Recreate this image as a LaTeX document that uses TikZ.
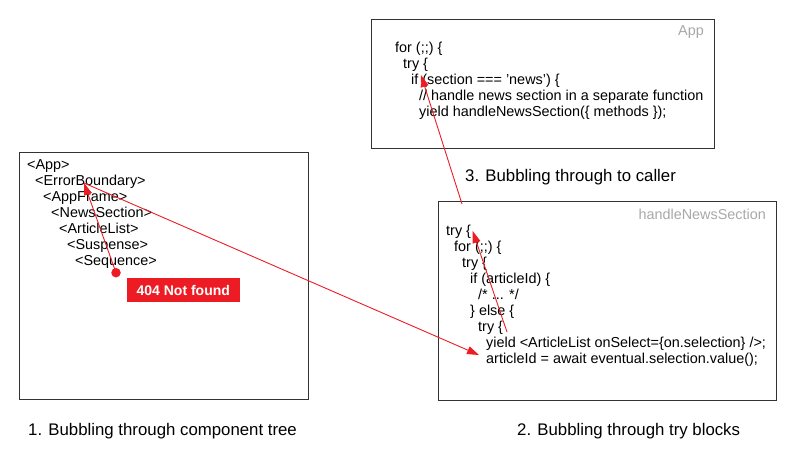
\documentclass[tikz,border=0pt]{standalone}
\usepackage{fontspec}
\setmainfont{Liberation Sans}
\usetikzlibrary{arrows.meta}
\definecolor{errred}{HTML}{ED1C24}
\definecolor{boxgray}{HTML}{333333}
\definecolor{lblgray}{HTML}{A8A8A8}
\tikzset{
  panel/.style={draw=boxgray, line width=1pt},
  code/.style={anchor=base west, inner sep=0pt, font=\fontsize{14.4}{16}\selectfont},
  lbl/.style={anchor=base east, inner sep=0pt, text=lblgray, font=\fontsize{14.4}{16}\selectfont},
  caption/.style={anchor=base west, inner sep=0pt, font=\fontsize{16.8}{20}\selectfont},
  bubble/.style={draw=errred, line width=0.9pt, -{Triangle[length=12pt,width=8pt]}, shorten >=0pt}
}
\begin{document}
\begin{tikzpicture}[x=1pt,y=-1pt]
\useasboundingbox (0,0) rectangle (800,456);
% panels
\draw[panel] (19,152) rectangle (308,399);
\draw[panel] (371,19.5) rectangle (714,148);
\draw[panel] (438.5,201.5) rectangle (776.5,400);
% component tree
\node[code] (t1) at (27,169.5) {<App>};
\node[code] (t2) at (35,185.5) {<ErrorBoundary>};
\node[code] (t3) at (43,201.5) {<AppFrame>};
\node[code] (t4) at (51,217.5) {<NewsSection>};
\node[code] (t5) at (59,233.5) {<ArticleList>};
\node[code] (t6) at (67,249.5) {<Suspense>};
\node[code] (t7) at (75,265.5) {<Sequence>};
\node[circle, fill=errred, inner sep=0pt, minimum size=9.5pt] (dot) at (116,272.7) {};
\node[fill=errred, text=white, inner sep=0pt, minimum width=113.5pt, minimum height=24.5pt,
      font=\fontsize{14}{16}\selectfont\bfseries] (err) at (183.3,290) {404 Not found};
% App panel
\node[lbl] (applbl) at (704,35.7) {App};
\node[code] (a1) at (395,52.3) {for (;;) \{};
\node[code] (a2) at (403,68.4) {try \{};
\node[code] (a3) at (411,84.5) {if (section === 'news') \{};
\node[code] (a4) at (419,100.6) {// handle news section in a separate function};
\node[code] (a5) at (419,116.7) {yield handleNewsSection(\{ methods \});};
% handleNewsSection panel
\node[lbl] (hnslbl) at (766,219) {handleNewsSection};
\node[code] (h1) at (446,235) {try \{};
\node[code] (h2) at (454,251) {for (;;) \{};
\node[code] (h3) at (462,267) {try \{};
\node[code] (h4) at (470,283) {if (articleId) \{};
\node[code] (h5) at (478,299) {/* ... */};
\node[code] (h6) at (470,315) {\} else \{};
\node[code] (h7) at (478,331) {try \{};
\node[code] (h8) at (486,347) {yield <ArticleList onSelect=\{on.selection\} />;};
\node[code] (h9) at (486,363.3) {articleId = await eventual.selection.value();};
% captions
\node[caption] (c1) at (28,435.7) {1. Bubbling through component tree};
\node[caption] (c2) at (517,435.7) {2. Bubbling through try blocks};
\node[caption] (c3) at (465,181) {3. Bubbling through to caller};
% arrow end points
\coordinate (eb) at (84,183);
\coordinate (aid) at (479,355);
\coordinate (yld) at (507,332);
\coordinate (try1) at (472.7,231);
\coordinate (hnstop) at (462,204);
\coordinate (ifsec) at (421,75);
\draw[bubble] (dot.center) -- (eb);
\draw[bubble] (eb) -- (aid);
\draw[bubble] (yld) -- (try1);
\draw[bubble] (hnstop) -- (ifsec);
\end{tikzpicture}
\end{document}
